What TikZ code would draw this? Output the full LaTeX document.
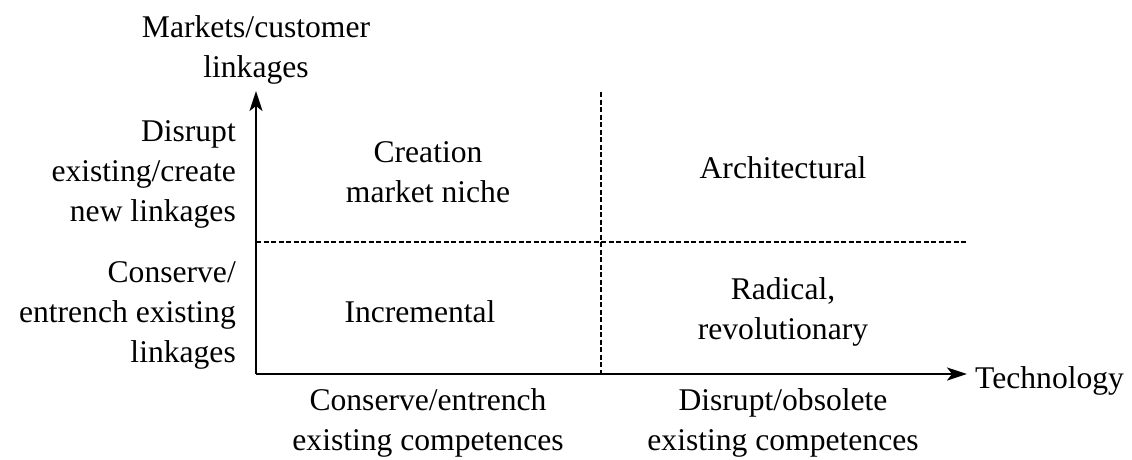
\documentclass[tikz,border=0pt]{standalone}
\usepackage{fontspec}
\setmainfont{Liberation Serif}
\usetikzlibrary{arrows.meta}
\tikzset{
  lbl/.style={font=\fontsize{31.6}{40}\selectfont, inner sep=0pt, align=center},
  axis/.style={line width=2.3pt, -{Stealth[length=20pt,width=13pt,inset=5pt]}},
  divider/.style={line width=1.5pt, dash pattern=on 5pt off 2.5pt},
}
\begin{document}
\begin{tikzpicture}[x=1pt,y=-1pt]
\useasboundingbox (0,0) rectangle (1132,459);
\coordinate (O) at (256,374);
\coordinate (Ytip) at (256,91);
\coordinate (Xtip) at (967,374);
\coordinate (Vtop) at (601,92);
\coordinate (Vbot) at (601,374);
\coordinate (Hleft) at (256,242);
\coordinate (Hright) at (968,242);
\draw[divider] (Vtop) -- (Vbot);
\draw[divider] (Hleft) -- (Hright);
\draw[axis] (O) -- (Ytip);
\draw[axis] (O) -- (Xtip);
\node[lbl] (ytitle) at (256,49.5) {Markets/customer\\linkages};
\node[lbl, anchor=east, align=right] (ytop) at (236,174.5) {Disrupt\\existing/create\\new linkages};
\node[lbl, anchor=east, align=right] (ybot) at (236,315.5) {Conserve/\\entrench existing\\linkages};
\node[lbl] (creation) at (428,172.5) {Creation\\market niche};
\node[lbl, anchor=base] (arch) at (783,178) {Architectural};
\node[lbl, anchor=base] (incr) at (420,322) {Incremental};
\node[lbl] (radical) at (783,311.5) {Radical,\\revolutionary};
\node[lbl] (xleft) at (428,422.5) {Conserve/entrench\\existing competences};
\node[lbl] (xright) at (783,422.5) {Disrupt/obsolete\\existing competences};
\node[lbl, anchor=base west] (xtitle) at (975,388) {Technology};
\end{tikzpicture}
\end{document}
